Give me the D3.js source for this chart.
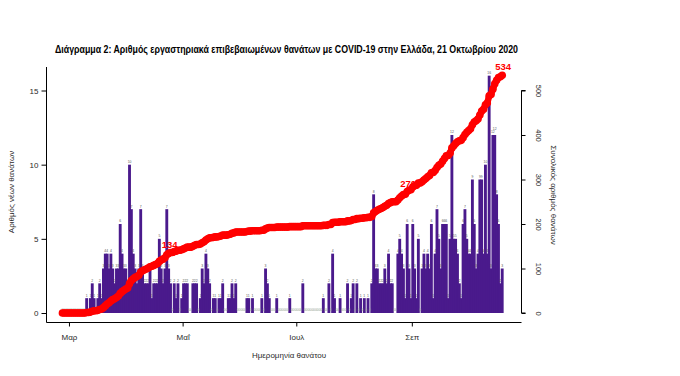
<!DOCTYPE html>
<html><head><meta charset="utf-8">
<script src="https://cdn.jsdelivr.net/npm/d3@7"></script>
<style>body{margin:0;background:#fff}svg{display:block}text{font-family:"Liberation Sans",Arial,sans-serif}</style>
</head><body><svg id="c" width="680" height="376"></svg>
<script>
// ---- data ----
const startDate = "2020-02-26";
const endDate = "2020-10-21";
const dailyDeaths = [
  0,0,0,0,0,0,0,0,0,0,0,0,0,
  1,0,1,2,1,0,1,2,1,3,
  4,4,3,4,3,2,3,3,6,4,
  3,3,2,10,7,4,3,2,3,7,
  3,2,2,2,3,1,2,2,2,5,
  3,2,3,7,
  3,2,0,2,1,2,0,1,2,2,
  2,0,0,2,2,2,0,1,3,2,
  4,3,2,0,1,1,0,1,1,2,
  0,0,1,1,2,1,2,0,0,0,
  0,0,1,
  1,0,1,0,0,0,0,1,0,3,
  2,1,0,0,0,1,0,0,0,0,
  0,0,1,0,0,0,0,0,0,2,
  0,0,0,0,0,0,0,0,0,0,
  1,0,0,2,0,4,1,
  0,0,1,0,0,0,2,0,1,2,
  0,2,0,1,0,1,0,1,0,2,
  8,
  3,3,2,2,2,3,2,4,2,
  2,0,0,4,5,4,3,1,6,3,1,6,3,1,5,0,3,4,
  3,4,3,6,1,4,7,5,3,6,6,6,1,5,12,
  5,5,4,2,1,6,7,5,4,4,9,6,
  3,4,9,9,4,10,4,16,3,12,12,8,6,2,3
];
const monthTicks = ["2020-03-01","2020-05-01","2020-07-01","2020-09-01"];
const monthLabels = ["Μαρ","Μαΐ","Ιουλ","Σεπ"];
const leftTicks = [0,5,10,15];
const rightTicks = [0,100,200,300,400,500];
const cumLabels = [134,270,534];
const title = "Διάγραμμα 2: Αριθμός εργαστηριακά επιβεβαιωμένων θανάτων με COVID-19 στην Ελλάδα, 21 Οκτωβρίου 2020";
const yLeftTitle = "Αριθμός νέων θανάτων";
const yRightTitle = "Συνολικός αριθμός θανάτων";
const xTitle = "Ημερομηνία θανάτου";

// ---- build ----
const parse = d3.utcParse("%Y-%m-%d");
const start = parse(startDate);
const days = dailyDeaths.map((v,i)=>({date:d3.utcDay.offset(start,i), v}));
const cum = d3.cumsum(dailyDeaths);
days.forEach((d,i)=>d.c=cum[i]);

const svg = d3.select("#c");
const x = d3.scaleUtc().domain([start, parse(endDate)]).range([61.5, 505]);
const yL = d3.scaleLinear().domain([0,15]).range([313, 90.5]);
const yR = d3.scaleLinear().domain([0,500]).range([313, 90.5]);
const step = x(d3.utcDay.offset(start,1)) - x(start);

const purple = "#4a1a8c";
const red = "#ff0000";
const axisCol = "#2a2a2a";
const FONT = "Liberation Sans, Arial, sans-serif";

// title
svg.append("text").attr("x",286.5).attr("y",53).attr("text-anchor","middle")
  .attr("font-family","'Liberation Sans Narrow', 'Liberation Sans', Arial, sans-serif")
  .attr("font-size",10).attr("font-weight","bold").attr("fill","#000")
  .attr("textLength",463).attr("lengthAdjust","spacingAndGlyphs").text(title);

// bars
svg.append("g").selectAll("rect").data(days.filter(d=>d.v>0)).join("rect")
  .attr("x",d=>x(d.date)-0.5).attr("width",step+1.0)
  .attr("y",d=>yL(d.v)).attr("height",d=>yL(0)-yL(d.v))
  .attr("fill",purple);

// tiny value labels (lift a two-digit label that would collide with its neighbour)
days.forEach((d,i)=>{
  const p = days[i-1];
  d.lift = (p && !p.lift && d.v>=10 && p.v===d.v) ? 3.5 : 0;
});
svg.append("g").selectAll("text").data(days).join("text")
  .attr("x",d=>x(d.date)+step/2).attr("y",d=>yL(d.v)-1.6-d.lift)
  .attr("text-anchor","middle").attr("font-size",3.4)
  .attr("fill",d=>d.v>0?"#555":"#8a9a8a").text(d=>d.v);

// cumulative line
const cx = d=>x(d.date)+step/2;
svg.append("path").datum(days)
  .attr("d",d3.line().x(cx).y(d=>yR(d.c)))
  .attr("fill","none").attr("stroke",red).attr("stroke-width",6.5)
  .attr("stroke-linecap","round").attr("stroke-linejoin","round");
svg.append("g").selectAll("circle").data(days).join("circle")
  .attr("cx",cx).attr("cy",d=>yR(d.c)).attr("r",3.8).attr("fill",red);

// cumulative labels
cumLabels.forEach(val=>{
  const d = days.find(e=>e.c>=val);
  svg.append("text").attr("x",cx(d)+1).attr("y",yR(d.c)-5)
    .attr("text-anchor","middle").attr("font-size",9.5).attr("font-weight","bold")
    .attr("fill",red).text(val);
});

// frame lines (left + bottom)
svg.append("path").attr("d","M46.5,67V322.5H521.5").attr("fill","none")
  .attr("stroke","#000").attr("stroke-width",1);

// left axis
const gL = svg.append("g").attr("transform","translate(46.5,0)")
  .call(d3.axisLeft(yL).tickValues(leftTicks).tickSize(5).tickPadding(3));
gL.select(".domain").remove();
gL.selectAll("text").attr("font-size",8).attr("fill",axisCol).attr("font-family",FONT);
gL.selectAll("line").attr("stroke","#000");

// right axis
const gR = svg.append("g").attr("transform","translate(521.5,0)")
  .call(d3.axisRight(yR).tickValues(rightTicks).tickSize(4).tickPadding(0));
gR.select(".domain").attr("d",`M4,${yR(0)}H0V${yR(500)}H4`).attr("stroke","#000");
gR.selectAll("line").attr("stroke","#000");
gR.selectAll(".tick text").attr("x",0).attr("dy",null).attr("text-anchor","middle")
  .attr("transform","translate(14,0) rotate(90)").attr("y",0)
  .attr("font-size",7.5).attr("fill",axisCol).attr("font-family",FONT);

// x axis
const gX = svg.append("g").attr("transform","translate(0,322.5)")
  .call(d3.axisBottom(x).tickValues(monthTicks.map(parse)).tickSize(4).tickPadding(8)
    .tickFormat((d,i)=>monthLabels[i]));
gX.select(".domain").remove();
gX.selectAll("line").attr("stroke","#000");
gX.selectAll("text").attr("font-size",8).attr("fill",axisCol).attr("font-family",FONT);

// axis titles
svg.append("text").attr("transform","translate(14,192) rotate(-90)").attr("text-anchor","middle")
  .attr("font-size",8).attr("fill",axisCol).text(yLeftTitle);
svg.append("text").attr("transform","translate(551,195) rotate(90)").attr("text-anchor","middle")
  .attr("font-size",8).attr("fill",axisCol).text(yRightTitle);
svg.append("text").attr("x",289).attr("y",358).attr("text-anchor","middle")
  .attr("font-size",8).attr("fill",axisCol).text(xTitle);
</script></body></html>
